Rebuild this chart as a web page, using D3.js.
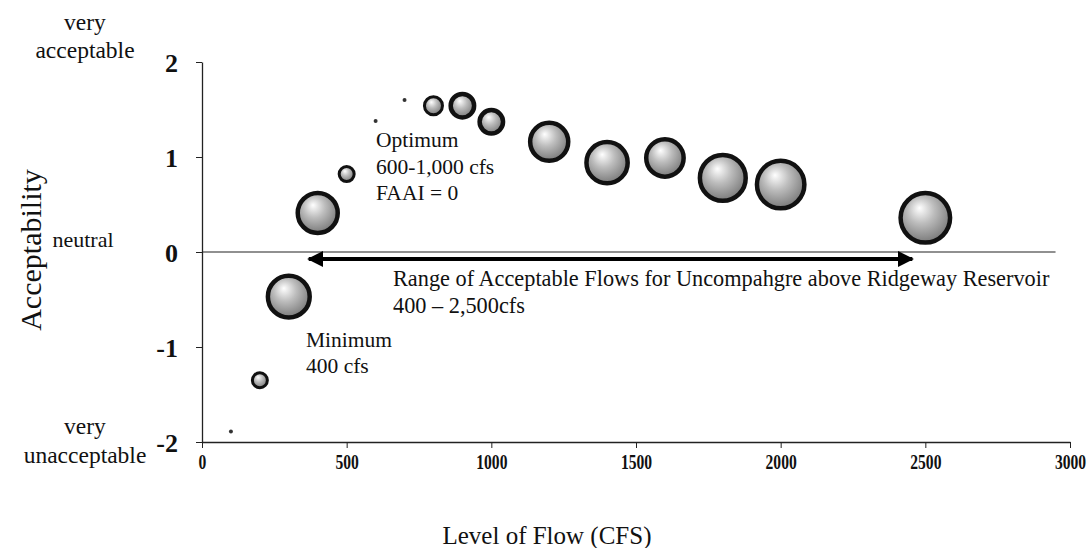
<!DOCTYPE html>
<html>
<head>
<meta charset="utf-8">
<script src="https://cdn.jsdelivr.net/npm/d3@7"></script>
<style>
  body { margin: 0; background: #fff; }
  text { font-family: "Liberation Serif", "Times New Roman", serif; fill: #111; }
</style>
</head>
<body>
<div id="chart"></div>
<script>
// flow levels (cfs), mean acceptability and bubble weight (relative size)
const flows = [100, 200, 300, 400, 500, 600, 700, 800, 900, 1000, 1200, 1400, 1600, 1800, 2000, 2500];
const acceptability = [-1.89, -1.35, -0.47, 0.41, 0.82, 1.38, 1.6, 1.54, 1.54, 1.37, 1.16, 0.94, 0.99, 0.78, 0.71, 0.36];
const weights = [0.6, 9, 70, 64, 9, 0.6, 0.6, 13, 22, 22, 58, 68, 56, 84, 90, 98];

const xTicks = [0, 500, 1000, 1500, 2000, 2500, 3000];
const yTicks = [-2, -1, 0, 1, 2];
const rangeFlows = [400, 2500];

const data = flows.map((f, i) => ({ flow: f, acc: acceptability[i], w: weights[i] }));

const svgWidth = 1088;
const svgHeight = 548;
const margin = { top: 62, right: 18, bottom: 106, left: 202 };

const svg = d3.select('#chart')
    .append('svg')
    .attr('width', svgWidth)
    .attr('height', svgHeight);

const defs = svg.append('defs');
const grad = defs.append('radialGradient')
    .attr('id', 'ball')
    .attr('cx', '45%').attr('cy', '40%').attr('r', '60%')
    .attr('fx', '38%').attr('fy', '30%');
grad.append('stop').attr('offset', '0%').attr('stop-color', '#ffffff');
grad.append('stop').attr('offset', '45%').attr('stop-color', '#bdbdbd');
grad.append('stop').attr('offset', '100%').attr('stop-color', '#7a7a7a');

const g = svg.append('g').attr('transform', `translate(${margin.left}, ${margin.top})`);

const x = d3.scaleLinear().domain([0, 3000]).range([0, 868]);
const y = d3.scaleLinear().domain([-2, 2]).range([380, 0]);
const r = d3.scaleSqrt().domain([0, 100]).range([0, 25]);

// axes
const xAxis = g.append('g')
    .attr('transform', `translate(0, ${y(-2)})`)
    .call(d3.axisBottom(x).tickValues(xTicks).tickSize(6).tickSizeOuter(0).tickFormat(d3.format('d')));
xAxis.select('.domain').attr('stroke', '#222').attr('stroke-width', 1.3);
xAxis.selectAll('.tick line').attr('stroke', '#222');
xAxis.selectAll('.tick text')
    .attr('y', 13)
    .attr('transform', 'scale(0.78,1)')
    .style('font-size', '20px')
    .style('font-weight', 'bold')
    .style('font-family', '"Liberation Serif", serif')
    .attr('fill', '#111');

const yAxis = g.append('g')
    .call(d3.axisLeft(y).tickValues(yTicks).tickSize(6).tickSizeOuter(0).tickFormat(d3.format('d')));
yAxis.select('.domain').attr('stroke', '#222').attr('stroke-width', 1.3);
yAxis.selectAll('.tick line').attr('stroke', '#222');
yAxis.selectAll('.tick text')
    .attr('x', -24)
    .attr('dy', '0.38em')
    .style('font-size', '26px')
    .style('font-weight', 'bold')
    .style('font-family', '"Liberation Serif", serif')
    .attr('fill', '#111')
    .text(d => d < 0 ? '-' + Math.abs(d) : d);

// zero line
g.append('line')
    .attr('x1', 0).attr('x2', x(2950))
    .attr('y1', y(0)).attr('y2', y(0))
    .attr('stroke', '#222').attr('stroke-width', 1.2);

// acceptable range arrow
defs.append('marker')
    .attr('id', 'head')
    .attr('viewBox', '0 0 10 10')
    .attr('refX', 9).attr('refY', 5)
    .attr('markerWidth', 4).attr('markerHeight', 4)
    .attr('orient', 'auto-start-reverse')
    .append('path').attr('d', 'M0,0 L10,5 L0,10 z').attr('fill', '#000');

g.append('line')
    .attr('x1', x(rangeFlows[0]) - 9).attr('x2', x(rangeFlows[1]) - 13)
    .attr('y1', y(0) + 7).attr('y2', y(0) + 7)
    .attr('stroke', '#000').attr('stroke-width', 4)
    .attr('marker-start', 'url(#head)')
    .attr('marker-end', 'url(#head)');

// bubbles
g.selectAll('.bubble')
    .data(data)
    .enter()
    .append('circle')
    .attr('class', 'bubble')
    .attr('cx', d => x(d.flow))
    .attr('cy', d => y(d.acc))
    .attr('r', d => Math.max(2, r(d.w)))
    .attr('fill', d => r(d.w) < 4 ? '#333' : 'url(#ball)')
    .attr('stroke', '#111')
    .attr('stroke-width', d => r(d.w) < 4 ? 0 : (r(d.w) < 10 ? 3 : 4.5));

// annotations
function block(lines, tx, ty, lh, size) {
    const t = svg.append('text').attr('x', tx).attr('y', ty).style('font-size', size + 'px');
    lines.forEach((s, i) => t.append('tspan').attr('x', tx).attr('dy', i === 0 ? 0 : lh).text(s));
    return t;
}
block(['Optimum', '600-1,000  cfs', 'FAAI = 0'], 376, 147, 26.5, 21.5);
block(['Range of Acceptable Flows for Uncompahgre above Ridgeway Reservoir', '400 \u2013 2,500cfs'], 393, 286, 27, 22.3);
block(['Minimum', '400 cfs'], 306, 347, 26, 21.5);

// side labels
function side(lines, cx, ty, lh, size) {
    const t = svg.append('text').attr('x', cx).attr('y', ty).attr('text-anchor', 'middle').style('font-size', size + 'px');
    lines.forEach((s, i) => t.append('tspan').attr('x', cx).attr('dy', i === 0 ? 0 : lh).text(s));
}
side(['very', 'acceptable'], 85, 30, 28, 23.5);
side(['neutral'], 83, 247, 0, 22);
side(['very', 'unacceptable'], 85, 434, 29, 23.5);

svg.append('text')
    .attr('transform', 'translate(41, 250) rotate(-90)')
    .attr('text-anchor', 'middle')
    .style('font-size', '30px')
    .text('Acceptability');

svg.append('text')
    .attr('x', 547).attr('y', 544)
    .attr('text-anchor', 'middle')
    .style('font-size', '25px')
    .text('Level of Flow (CFS)');
</script>
</body>
</html>
